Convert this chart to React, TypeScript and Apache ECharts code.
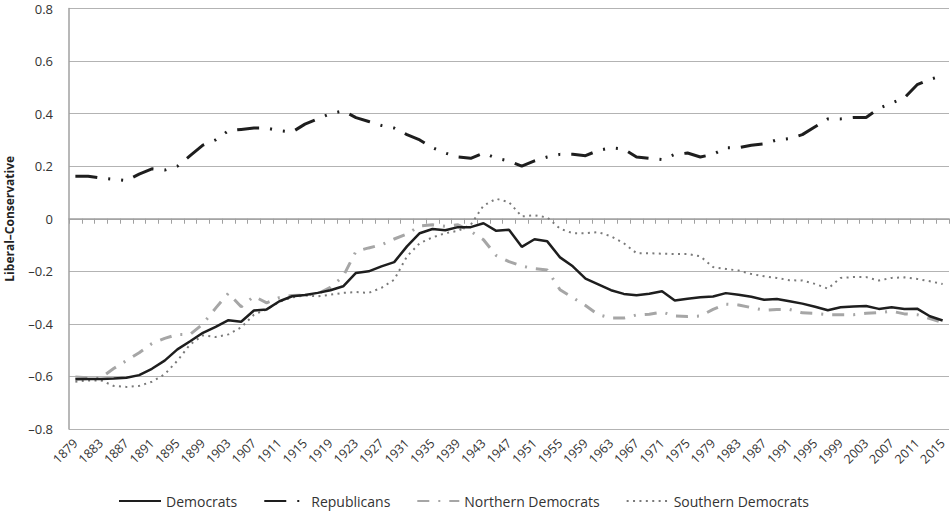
import React, { useEffect, useRef } from "react";
import * as echarts from "echarts";

const years = [
  "1879", "1881", "1883", "1885", "1887", "1889", "1891", "1893", "1895", "1897",
  "1899", "1901", "1903", "1905", "1907", "1909", "1911", "1913", "1915", "1917",
  "1919", "1921", "1923", "1925", "1927", "1929", "1931", "1933", "1935", "1937",
  "1939", "1941", "1943", "1945", "1947", "1949", "1951", "1953", "1955", "1957",
  "1959", "1961", "1963", "1965", "1967", "1969", "1971", "1973", "1975", "1977",
  "1979", "1981", "1983", "1985", "1987", "1989", "1991", "1993", "1995", "1997",
  "1999", "2001", "2003", "2005", "2007", "2009", "2011", "2013", "2015",
];

const democrats = [
  -0.611, -0.61, -0.61, -0.608, -0.605, -0.595, -0.571, -0.54, -0.497, -0.466,
  -0.434, -0.411, -0.386, -0.392, -0.349, -0.345, -0.314, -0.295, -0.29, -0.282,
  -0.272, -0.257, -0.206, -0.2, -0.181, -0.165, -0.105, -0.055, -0.039, -0.044,
  -0.032, -0.032, -0.017, -0.046, -0.042, -0.107, -0.078, -0.086, -0.147, -0.181,
  -0.228, -0.25, -0.272, -0.286, -0.291, -0.285, -0.276, -0.311, -0.304, -0.299,
  -0.296, -0.283, -0.289, -0.297, -0.308, -0.305, -0.314, -0.323, -0.335, -0.348,
  -0.337, -0.334, -0.332, -0.343, -0.337, -0.343, -0.342, -0.371, -0.387,
];

const republicans = [
  0.162, 0.162, 0.155, 0.15, 0.145, 0.17, 0.19, 0.185, 0.2, 0.24,
  0.28, 0.3, 0.335, 0.34, 0.345, 0.345, 0.335, 0.33, 0.36, 0.38,
  0.4, 0.41, 0.385, 0.37, 0.355, 0.345, 0.32, 0.3, 0.27, 0.25,
  0.235, 0.23, 0.25, 0.23, 0.22, 0.2, 0.22, 0.235, 0.245, 0.245,
  0.24, 0.26, 0.27, 0.265, 0.235, 0.23, 0.225, 0.245, 0.25, 0.235,
  0.245, 0.27, 0.27, 0.28, 0.285, 0.3, 0.305, 0.32, 0.35, 0.38,
  0.38, 0.385, 0.385, 0.42, 0.44, 0.46, 0.51, 0.53, 0.545,
];

const northernDemocrats = [
  -0.602, -0.605, -0.605, -0.57, -0.54, -0.51, -0.475, -0.455, -0.44, -0.44,
  -0.4, -0.34, -0.283, -0.335, -0.295, -0.32, -0.3, -0.292, -0.29, -0.286,
  -0.261, -0.219, -0.124, -0.111, -0.099, -0.077, -0.058, -0.027, -0.023, -0.029,
  -0.023, -0.048, -0.08, -0.14, -0.163, -0.18, -0.19, -0.195, -0.27, -0.3,
  -0.33, -0.365, -0.378, -0.378, -0.366, -0.363, -0.355, -0.37, -0.372, -0.37,
  -0.345, -0.325, -0.328, -0.338, -0.348, -0.345, -0.345, -0.358, -0.36, -0.365,
  -0.365, -0.365, -0.36, -0.357, -0.352, -0.362, -0.365, -0.38, -0.395,
];

const southernDemocrats = [
  -0.62, -0.615, -0.615, -0.636, -0.64, -0.636, -0.62, -0.592, -0.54, -0.478,
  -0.444, -0.45, -0.44, -0.413, -0.365, -0.345, -0.316, -0.299, -0.292, -0.295,
  -0.289, -0.282, -0.279, -0.282, -0.263, -0.232, -0.143, -0.093, -0.071, -0.055,
  -0.046, -0.023, 0.05, 0.076, 0.063, 0.009, 0.013, 0.005, -0.038, -0.055,
  -0.055, -0.051, -0.067, -0.093, -0.131, -0.131, -0.133, -0.134, -0.134, -0.143,
  -0.184, -0.191, -0.197, -0.21, -0.219, -0.225, -0.234, -0.235, -0.248, -0.266,
  -0.225, -0.222, -0.222, -0.235, -0.225, -0.223, -0.229, -0.238, -0.248,
];

const FONT = "'Open Sans', 'Noto Sans', sans-serif";

function fmtY(v: number): string {
  if (Math.abs(v) < 1e-9) return "0";
  return (v < 0 ? "\u2013" : "") + Math.abs(v).toFixed(1);
}

export default function App() {
  const ref = useRef<HTMLDivElement>(null);

  useEffect(() => {
    if (!ref.current) return;
    const chart = echarts.init(ref.current, undefined, { renderer: "svg" });
    chart.setOption({
      animation: false,
      backgroundColor: "#ffffff",
      textStyle: { fontFamily: FONT },
      grid: {
        left: 69,
        right: 2,
        top: 8.5,
        bottom: 82,
        containLabel: false,
        outerBoundsMode: "none",
      },
      legend: {
        left: 113,
        top: 489,
        padding: 5,
        itemWidth: 42,
        itemHeight: 14,
        itemGap: 26,
        itemStyle: { opacity: 0 },
        textStyle: { fontFamily: FONT, fontSize: 14, color: "#333" },
        data: ["Democrats", "Republicans", "Northern Democrats", "Southern Democrats"],
      },
      xAxis: {
        type: "category",
        data: years,
        boundaryGap: true,
        axisLine: { show: true, lineStyle: { color: "#a0a0a0", width: 1.5 } },
        axisTick: { show: true, interval: 0, length: 5, lineStyle: { color: "#a0a0a0", width: 1 } },
        axisLabel: {
          interval: 1,
          rotate: 45,
          fontSize: 12.5,
          margin: 12,
          color: "#333",
          fontFamily: FONT,
        },
        splitLine: { show: false },
      },
      yAxis: {
        type: "value",
        min: -0.8,
        max: 0.8,
        interval: 0.2,
        name: "Liberal\u2013Conservative",
        nameLocation: "middle",
        nameGap: 54,
        nameTextStyle: { fontFamily: FONT, fontSize: 12, fontWeight: "bold", color: "#222" },
        axisLine: { show: true, lineStyle: { color: "#a0a0a0", width: 1.5 } },
        axisTick: { show: false },
        axisLabel: {
          formatter: fmtY,
          fontSize: 13,
          lineHeight: 13,
          margin: 16,
          color: "#333",
          fontFamily: FONT,
        },
        splitLine: { show: true, lineStyle: { color: "#b3b3b3", width: 1 } },
      },
      series: [
        {
          name: "Democrats",
          type: "line",
          data: democrats,
          symbol: "none",
          itemStyle: { color: "#1e1e1e" },
          lineStyle: { color: "#1e1e1e", width: 2.5, type: "solid" },
          z: 5,
        },
        {
          name: "Republicans",
          type: "line",
          data: republicans,
          symbol: "none",
          itemStyle: { color: "#1e1e1e" },
          lineStyle: { color: "#1e1e1e", width: 3, type: [22, 11, 2, 11, 2, 11], cap: "butt" },
          z: 4,
        },
        {
          name: "Northern Democrats",
          type: "line",
          data: northernDemocrats,
          symbol: "none",
          itemStyle: { color: "#a6a6a6" },
          lineStyle: { color: "#a6a6a6", width: 3, type: [12, 9, 2, 9], cap: "butt" },
          z: 3,
        },
        {
          name: "Southern Democrats",
          type: "line",
          data: southernDemocrats,
          symbol: "none",
          itemStyle: { color: "#7a7a7a" },
          lineStyle: { color: "#7a7a7a", width: 2, type: [2, 4.4], cap: "butt" },
          z: 2,
        },
      ],
    });
    return () => chart.dispose();
  }, []);

  return (
    <div
      ref={ref}
      style={{ position: "absolute", left: 0, top: 0, width: 951, height: 511, background: "#fff" }}
    />
  );
}
